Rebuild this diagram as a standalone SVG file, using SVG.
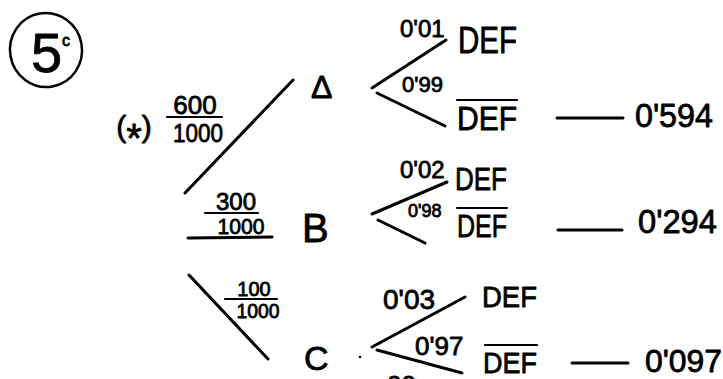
<svg xmlns="http://www.w3.org/2000/svg" width="723" height="379" viewBox="0 0 723 379">
<style>
.t{font-family:"Liberation Sans","DejaVu Sans",sans-serif;fill:#000;stroke:#000;stroke-width:0.8;stroke-linejoin:round}
.ln{stroke:#000;stroke-width:3;stroke-linecap:round;fill:none}
.bar{stroke:#000;stroke-width:2.2;stroke-linecap:round;fill:none}
</style>
<rect width="723" height="379" fill="#fff"/>
<g id="title">
<ellipse cx="46" cy="50" rx="36" ry="37" fill="none" stroke="#000" stroke-width="2.5" transform="rotate(-10 46 50)"/>
<text class="t" x="31" y="72" font-size="56">5</text>
<text class="t" x="62" y="46" font-size="16">c</text>
</g>
<g id="connectors">
<line class="ln" x1="185" y1="193" x2="293" y2="80"/>
<line class="ln" x1="188" y1="238" x2="272" y2="237"/>
<line class="ln" x1="189" y1="275" x2="268" y2="359"/>
<polyline class="ln" points="446,40 372,88"/>
<polyline class="ln" points="377,93 445,126"/>
<polyline class="ln" points="447,182 372,214"/>
<polyline class="ln" points="378,220 425,243"/>
<polyline class="ln" points="465,297 372,347"/>
<polyline class="ln" points="377,350 462,373"/>
<line class="ln" x1="557" y1="118" x2="623" y2="118"/>
<line class="ln" x1="558" y1="230" x2="622" y2="230"/>
<line class="ln" x1="572" y1="363" x2="628" y2="363"/>
</g>
<g id="prob-A">
<text class="t" x="134" y="137" font-size="30" text-anchor="middle">(<tspan font-size="40" dy="15">*</tspan><tspan dy="-15">)</tspan></text>
<text class="t" x="195" y="114" font-size="26" text-anchor="middle">600</text>
<line class="bar" x1="167" y1="117" x2="222" y2="117"/>
<text class="t" x="198" y="142" font-size="26" text-anchor="middle" textLength="50" lengthAdjust="spacingAndGlyphs">1000</text>
</g>
<g id="prob-B">
<text class="t" x="236" y="210" font-size="24" text-anchor="middle">300</text>
<line class="bar" x1="205" y1="213" x2="258" y2="213"/>
<text class="t" x="241" y="234" font-size="22" text-anchor="middle" textLength="47" lengthAdjust="spacingAndGlyphs">1000</text>
</g>
<g id="prob-C">
<text class="t" x="254" y="296" font-size="20" text-anchor="middle">100</text>
<line class="bar" x1="225" y1="299" x2="277" y2="299"/>
<text class="t" x="258" y="318" font-size="20" text-anchor="middle" textLength="43" lengthAdjust="spacingAndGlyphs">1000</text>
</g>
<g id="node-A"><text class="t" x="311" y="98" font-size="32">Δ</text></g>
<g id="node-B"><text class="t" x="302" y="242" font-size="40">B</text></g>
<g id="node-C"><text class="t" x="304" y="370" font-size="34">C</text></g>
<g id="A-def">
<text class="t" x="400" y="37" font-size="24">0'01</text>
<text class="t" x="458" y="53" font-size="36" textLength="59" lengthAdjust="spacingAndGlyphs">DEF</text>
</g>
<g id="A-nodef">
<text class="t" x="402" y="92" font-size="22">0'99</text>
<line class="bar" x1="457" y1="100" x2="517" y2="100"/>
<text class="t" x="457" y="130" font-size="34" textLength="60" lengthAdjust="spacingAndGlyphs">DEF</text>
</g>
<g id="B-def">
<text class="t" x="400" y="178" font-size="24">0'02</text>
<text class="t" x="455" y="190" font-size="32" textLength="52" lengthAdjust="spacingAndGlyphs">DEF</text>
</g>
<g id="B-nodef">
<text class="t" x="408" y="217" font-size="18">0'98</text>
<line class="bar" x1="457" y1="208" x2="507" y2="208"/>
<text class="t" x="457" y="237" font-size="32" textLength="50" lengthAdjust="spacingAndGlyphs">DEF</text>
</g>
<g id="C-def">
<text class="t" x="383" y="309" font-size="28">0'03</text>
<text class="t" x="482" y="307" font-size="30" textLength="55" lengthAdjust="spacingAndGlyphs">DEF</text>
</g>
<g id="C-nodef">
<text class="t" x="415" y="355" font-size="26">0'97</text>
<line class="bar" x1="485" y1="345" x2="537" y2="345"/>
<text class="t" x="483" y="373" font-size="30" textLength="54" lengthAdjust="spacingAndGlyphs">DEF</text>
<circle cx="360" cy="357" r="1.3" fill="#000"/>
<text class="t" x="387" y="394" font-size="26">00</text>
</g>
<g id="results">
<text class="t" x="635" y="127" font-size="34" textLength="78" lengthAdjust="spacingAndGlyphs">0'594</text>
<text class="t" x="638" y="233" font-size="34" textLength="79" lengthAdjust="spacingAndGlyphs">0'294</text>
<text class="t" x="645" y="372" font-size="32" textLength="77" lengthAdjust="spacingAndGlyphs">0'097</text>
</g>
</svg>
